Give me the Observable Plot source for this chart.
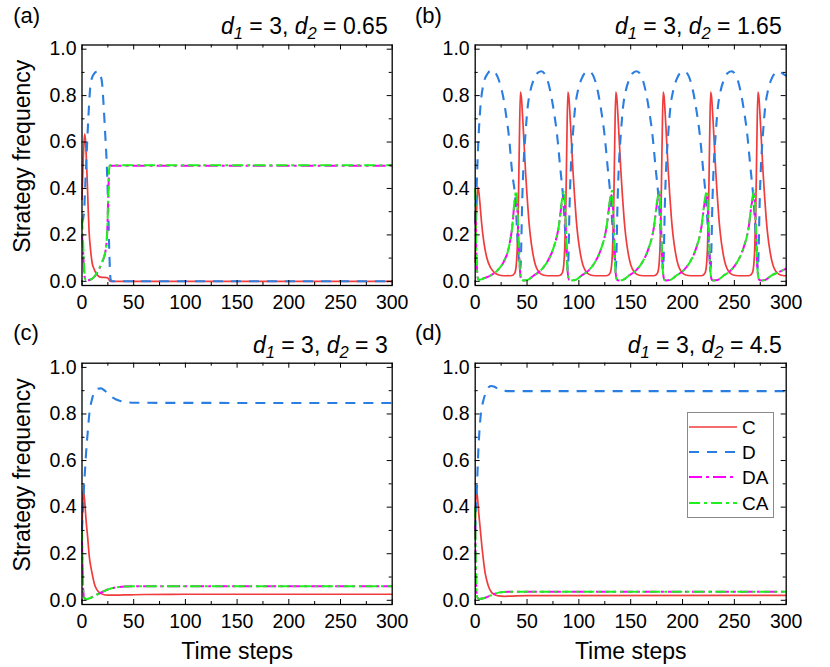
<!DOCTYPE html>
<html><head><meta charset="utf-8">
<script src="https://cdn.jsdelivr.net/npm/d3@7"></script>
<script src="https://cdn.jsdelivr.net/npm/@observablehq/plot@0.6"></script>
<style>
body{margin:0;background:#fff;}
#chart{position:relative;width:830px;height:667px;font-family:"Liberation Sans",Arial,sans-serif;color:#000;overflow:hidden;}
.panel{position:absolute;}
.title{position:absolute;font-size:23px;line-height:1;white-space:nowrap;}
.title sub{font-size:0.72em;vertical-align:-0.3em;line-height:0;}
.letter{position:absolute;font-size:22px;line-height:1;white-space:nowrap;}
</style></head>
<body><div id="chart"></div>
<script>
// ---------- data ----------
const seriesNames = ["C", "D", "DA", "CA"];
const panelLetters = ["(a)", "(b)", "(c)", "(d)"];
const d1Values = ["3", "3", "3", "3"];
const d2Values = ["0.65", "1.65", "3", "4.5"];
const xMajorTicks = [0, 50, 100, 150, 200, 250, 300];
const xMinorTicks = [25, 75, 125, 175, 225, 275];
const yMajorTicks = [0, 0.2, 0.4, 0.6, 0.8, 1.0];
const yMinorTicks = [0.1, 0.3, 0.5, 0.7, 0.9];
const xAxisLabel = "Time steps";
const yAxisLabel = "Strategy frequency";

// panel (a): d1 = 3, d2 = 0.65
const a_C = [[0,0.35],[1,0.5],[2,0.6],[2.6,0.634],[3.5,0.6],[4.3,0.52],[5.1,0.43],[6,0.31],[6.8,0.22],[8.2,0.14],[9.8,0.08],[11.5,0.055],[13,0.04],[16,0.022],[18,0.018],[24,0.016],[25.5,0.012],[26.5,0.004],[27.5,0],[300,0]];
const a_D = [[0,0.25],[2,0.3],[3,0.4],[4.5,0.55],[6.7,0.75],[8.3,0.85],[11,0.89],[15,0.905],[18,0.885],[19.5,0.85],[21,0.75],[22.5,0.63],[23.7,0.53],[25.3,0.32],[26.6,0.1],[27.6,0.01],[29,0],[300,0]];
const a_DA = [[0,0.2],[0.8,0.15],[1.8,0.06],[2.8,0.012],[4,0.004],[10,0.012],[14.7,0.037],[19,0.078],[22.7,0.13],[24.4,0.215],[25.3,0.35],[26.2,0.48],[26.8,0.498],[300,0.498]];
const a_CA = [[0,0.27],[0.8,0.2],[1.8,0.08],[2.8,0.015],[4,0.004],[10,0.012],[14.7,0.039],[19,0.08],[22.7,0.132],[24.4,0.218],[25.3,0.35],[26.2,0.48],[26.8,0.5],[300,0.5]];

// panel (b): d1 = 3, d2 = 1.65
const b_C = [[0,0.08],[1,0.25],[2,0.38],[2.6,0.405],[3.5,0.385],[4.5,0.34],[6,0.26],[8.3,0.17],[11,0.105],[14.7,0.06],[18,0.04],[21,0.03],[25,0.025],[30,0.024],[35.6,0.025],
[38.1,0.035],[39.6,0.07],[40.6,0.15],[41.6,0.32],[42.6,0.6],[43.6,0.815],[44.6,0.79],[45.6,0.72],[46.8,0.62],[48.6,0.47],[50,0.37],[51.6,0.27],[53.1,0.2],[55.6,0.12],[58.1,0.07],[60.6,0.045],[63.6,0.031],[67.6,0.025],[73.6,0.024],[78.6,0.024],
[81.4,0.025],[83.9,0.035],[85.4,0.07],[86.4,0.15],[87.4,0.32],[88.4,0.6],[89.4,0.815],[90.4,0.79],[91.4,0.72],[92.6,0.62],[94.4,0.47],[95.8,0.37],[97.4,0.27],[98.9,0.2],[101.4,0.12],[103.9,0.07],[106.4,0.045],[109.4,0.031],[113.4,0.025],[119.4,0.024],[124.4,0.024],
[127.6,0.025],[130.1,0.035],[131.6,0.07],[132.6,0.15],[133.6,0.32],[134.6,0.6],[135.6,0.815],[136.6,0.79],[137.6,0.72],[138.8,0.62],[140.6,0.47],[142,0.37],[143.6,0.27],[145.1,0.2],[147.6,0.12],[150.1,0.07],[152.6,0.045],[155.6,0.031],[159.6,0.025],[165.6,0.024],[170.6,0.024],
[173.3,0.025],[175.8,0.035],[177.3,0.07],[178.3,0.15],[179.3,0.32],[180.3,0.6],[181.3,0.815],[182.3,0.79],[183.3,0.72],[184.5,0.62],[186.3,0.47],[187.7,0.37],[189.3,0.27],[190.8,0.2],[193.3,0.12],[195.8,0.07],[198.3,0.045],[201.3,0.031],[205.3,0.025],[211.3,0.024],[216.3,0.024],
[219.1,0.025],[221.6,0.035],[223.1,0.07],[224.1,0.15],[225.1,0.32],[226.1,0.6],[227.1,0.815],[228.1,0.79],[229.1,0.72],[230.3,0.62],[232.1,0.47],[233.5,0.37],[235.1,0.27],[236.6,0.2],[239.1,0.12],[241.6,0.07],[244.1,0.045],[247.1,0.031],[251.1,0.025],[257.1,0.024],[262.1,0.024],
[264.7,0.025],[267.2,0.035],[268.7,0.07],[269.7,0.15],[270.7,0.32],[271.7,0.6],[272.7,0.815],[273.7,0.79],[274.7,0.72],[275.9,0.62],[277.7,0.47],[279.1,0.37],[280.7,0.27],[282.2,0.2],[284.7,0.12],[287.2,0.07],[289.7,0.045],[292.7,0.031],[296.7,0.025],[300,0.024]];
const b_D = [[0,0.25],[1.3,0.4],[3,0.6],[5,0.75],[8,0.85],[12,0.895],[16,0.91],[20,0.895],[24,0.85],[27.6,0.78],[30,0.71],[32.4,0.63],[35.6,0.47],[38.8,0.35],[41,0.17],[42.6,0.07],[43.6,0.05],
[44.4,0.15],[45.2,0.32],[46.6,0.5],[48.4,0.63],[50.6,0.75],[53.2,0.82],[56.6,0.87],[59.6,0.895],[63.6,0.905],[67.6,0.89],[72.4,0.82],[75.6,0.74],[79,0.63],[82,0.49],[85,0.35],[87,0.2],[88.5,0.1],[89.4,0.05],
[90.2,0.15],[91,0.32],[92.4,0.5],[94.2,0.63],[96.4,0.75],[99,0.82],[102.4,0.87],[105.4,0.895],[109.4,0.905],[113.4,0.89],[118.2,0.82],[121.4,0.74],[124.8,0.63],[127.8,0.49],[130.8,0.35],[132.9,0.2],[134.7,0.1],[135.6,0.05],
[136.4,0.15],[137.2,0.32],[138.6,0.5],[140.4,0.63],[142.6,0.75],[145.2,0.82],[148.6,0.87],[151.6,0.895],[155.6,0.905],[159.6,0.89],[164.4,0.82],[167.6,0.74],[171,0.63],[174,0.49],[177,0.35],[179.1,0.2],[180.4,0.1],[181.3,0.05],
[182.1,0.15],[182.9,0.32],[184.3,0.5],[186.1,0.63],[188.3,0.75],[190.9,0.82],[194.3,0.87],[197.3,0.895],[201.3,0.905],[205.3,0.89],[210.1,0.82],[213.3,0.74],[216.7,0.63],[219.7,0.49],[222.7,0.35],[224.8,0.2],[226.2,0.1],[227.1,0.05],
[227.9,0.15],[228.7,0.32],[230.1,0.5],[231.9,0.63],[234.1,0.75],[236.7,0.82],[240.1,0.87],[243.1,0.895],[247.1,0.905],[251.1,0.89],[255.9,0.82],[259.1,0.74],[262.5,0.63],[265.5,0.49],[268.5,0.35],[270.6,0.2],[271.8,0.1],[272.7,0.05],
[273.5,0.15],[274.3,0.32],[275.7,0.5],[277.5,0.63],[279.7,0.75],[282.3,0.82],[285.7,0.87],[288.7,0.895],[292.7,0.905],[296.7,0.895],[300,0.885]];
const b_DA = [[0,0.3],[0.8,0.17],[1.8,0.045],[2.6,0.012],[4,0.006],[8.3,0.013],[14.7,0.025],[21,0.045],[27.6,0.085],[32.4,0.145],[35.6,0.23],[38,0.34],[39.6,0.375],[41.5,0.22],[43,0.06],[44.5,0.006],
[46.4,0.004],[50.4,0.006],[56.4,0.025],[62.8,0.045],[69,0.08],[75.6,0.145],[80.4,0.23],[83.7,0.34],[85.9,0.375],[87.5,0.22],[89,0.05],[90.7,0.006],
[92.6,0.004],[96.6,0.006],[102.6,0.025],[109,0.045],[115.2,0.08],[121.8,0.145],[126.6,0.23],[129.9,0.34],[132.1,0.375],[133.7,0.22],[135.2,0.05],[136.9,0.006],
[138.3,0.004],[142.3,0.006],[148.3,0.025],[154.7,0.045],[160.9,0.08],[167.5,0.145],[172.3,0.23],[175.6,0.34],[177.8,0.375],[179.4,0.22],[180.9,0.05],[182.6,0.006],
[184.1,0.004],[188.1,0.006],[194.1,0.025],[200.5,0.045],[206.7,0.08],[213.3,0.145],[218.1,0.23],[221.4,0.34],[223.6,0.375],[225.2,0.22],[226.7,0.05],[228.4,0.006],
[229.7,0.004],[233.7,0.006],[239.7,0.025],[246.1,0.045],[252.3,0.08],[258.9,0.145],[263.7,0.23],[267,0.34],[269.2,0.375],[270.8,0.22],[272.3,0.05],[274,0.006],
[275.7,0.004],[279.7,0.006],[285.7,0.025],[292.1,0.038],[300,0.055]];
const b_CA = [[0,0.4],[0.8,0.2],[1.8,0.05],[2.6,0.012],[4,0.006],[8.3,0.013],[14.7,0.025],[21,0.045],[27.6,0.085],[32.4,0.145],[35.6,0.23],[38,0.35],[39.6,0.39],[41.5,0.23],[43,0.06],[44.5,0.006],
[46.4,0.004],[50.4,0.006],[56.4,0.025],[62.8,0.045],[69,0.08],[75.6,0.145],[80.4,0.23],[83.7,0.35],[85.9,0.39],[87.5,0.23],[89,0.05],[90.7,0.006],
[92.6,0.004],[96.6,0.006],[102.6,0.025],[109,0.045],[115.2,0.08],[121.8,0.145],[126.6,0.23],[129.9,0.35],[132.1,0.39],[133.7,0.23],[135.2,0.05],[136.9,0.006],
[138.3,0.004],[142.3,0.006],[148.3,0.025],[154.7,0.045],[160.9,0.08],[167.5,0.145],[172.3,0.23],[175.6,0.35],[177.8,0.39],[179.4,0.23],[180.9,0.05],[182.6,0.006],
[184.1,0.004],[188.1,0.006],[194.1,0.025],[200.5,0.045],[206.7,0.08],[213.3,0.145],[218.1,0.23],[221.4,0.35],[223.6,0.39],[225.2,0.23],[226.7,0.05],[228.4,0.006],
[229.7,0.004],[233.7,0.006],[239.7,0.025],[246.1,0.045],[252.3,0.08],[258.9,0.145],[263.7,0.23],[267,0.35],[269.2,0.39],[270.8,0.23],[272.3,0.05],[274,0.006],
[275.7,0.004],[279.7,0.006],[285.7,0.025],[292.1,0.038],[300,0.055]];

// panel (c): d1 = 3, d2 = 3
const c_C = [[0,0.3],[0.7,0.42],[1.3,0.47],[2.5,0.43],[4,0.34],[5.5,0.27],[7,0.19],[8.7,0.14],[10.5,0.1],[12,0.07],[14.5,0.045],[16.8,0.033],[20,0.026],[24.8,0.022],[30,0.022],[40,0.023],[60,0.025],[100,0.026],[300,0.026]];
const c_D = [[0,0.3],[1.5,0.45],[2.8,0.55],[3.9,0.63],[5.5,0.72],[7.1,0.8],[9.5,0.86],[12,0.895],[15,0.908],[18.4,0.91],[22,0.9],[28,0.875],[33,0.862],[37.7,0.855],[45,0.85],[50.6,0.848],[300,0.847]];
const c_DA = [[0,0.26],[0.6,0.13],[1.3,0.035],[2.2,0.01],[4,0.005],[8.7,0.011],[15,0.026],[21.6,0.04],[26,0.048],[31,0.054],[36,0.057],[41,0.059],[50.6,0.06],[300,0.06]];
const c_CA = [[0,0.3],[0.6,0.15],[1.3,0.04],[2.2,0.01],[4,0.005],[8.7,0.011],[15,0.026],[21.6,0.04],[26,0.048],[31,0.054],[36,0.057],[41,0.059],[50.6,0.06],[300,0.06]];

// panel (d): d1 = 3, d2 = 4.5
const d_C = [[0,0.3],[0.5,0.42],[1,0.47],[2,0.45],[3.5,0.37],[4.8,0.31],[6.5,0.23],[8,0.17],[9.5,0.12],[11.3,0.083],[13.5,0.052],[16,0.033],[19,0.024],[22.6,0.019],[28,0.017],[35,0.018],[50,0.02],[300,0.021]];
const d_D = [[0,0.3],[0.8,0.4],[1.6,0.48],[3,0.64],[4.8,0.77],[6.5,0.83],[8,0.86],[11,0.9],[13,0.915],[15.5,0.92],[18,0.918],[22,0.908],[26,0.9],[35,0.898],[300,0.898]];
const d_DA = [[0,0.32],[0.5,0.16],[1.2,0.04],[2,0.012],[4,0.006],[9.7,0.011],[16,0.023],[22.6,0.033],[28,0.036],[32,0.037],[300,0.037]];
const d_CA = [[0,0.4],[0.5,0.2],[1.2,0.05],[2,0.012],[4,0.006],[9.7,0.011],[16,0.023],[22.6,0.033],[28,0.036],[32,0.037],[300,0.037]];

// ---------- styles ----------
const lineStyle = {
  C:  {stroke: "#f03c3c", strokeWidth: 1.7, strokeDasharray: null},
  D:  {stroke: "#2a7de1", strokeWidth: 2.1, strokeDasharray: "10,8"},
  DA: {stroke: "#ff00ff", strokeWidth: 2, strokeDasharray: "13,4,3,4"},
  CA: {stroke: "#1ef01e", strokeWidth: 2, strokeDasharray: "11,4,3,4"}
};
const FONT = "Liberation Sans, Arial, Helvetica, sans-serif";
const TICK_FONT = 19.5;
const LABEL_FONT = 23;

const panels = [
  {series: {C: a_C, D: a_D, DA: a_DA, CA: a_CA}, left: 0,   top: 0,   height: 320, mL: 81.5, mR: 23.3, mT: 44.5, mB: 35, yLabel: true,  xLabel: false},
  {series: {C: b_C, D: b_D, DA: b_DA, CA: b_CA}, left: 415, top: 0,   height: 320, mL: 59.7, mR: 44.3, mT: 44.5, mB: 35, yLabel: false, xLabel: false},
  {series: {C: c_C, D: c_D, DA: c_DA, CA: c_CA}, left: 0,   top: 320, height: 347, mL: 81.5, mR: 23.3, mT: 42.7, mB: 63, yLabel: true,  xLabel: true},
  {series: {C: d_C, D: d_D, DA: d_DA, CA: d_CA}, left: 415, top: 320, height: 347, mL: 59.7, mR: 44.3, mT: 42.7, mB: 63, yLabel: false, xLabel: true}
];

const chart = document.getElementById("chart");

panels.forEach((p, i) => {
  const W = 415;
  const fw = W - p.mL - p.mR;
  const fh = p.height - p.mT - p.mB;
  const marks = [];
  for (const s of seriesNames) {
    const st = lineStyle[s];
    marks.push(Plot.line(p.series[s], {
      x: d => d[0], y: d => d[1], curve: "monotone-x",
      stroke: st.stroke, strokeWidth: st.strokeWidth,
      strokeDasharray: st.strokeDasharray, strokeLinecap: "butt"
    }));
  }
  // inward ticks on all sides
  marks.push(Plot.tickX(xMajorTicks, {x: d => d, insetTop: fh - 5, stroke: "black", strokeWidth: 1}));
  marks.push(Plot.tickX(xMajorTicks, {x: d => d, insetBottom: fh - 5, stroke: "black", strokeWidth: 1}));
  marks.push(Plot.tickX(xMinorTicks, {x: d => d, insetTop: fh - 3, stroke: "black", strokeWidth: 1}));
  marks.push(Plot.tickX(xMinorTicks, {x: d => d, insetBottom: fh - 3, stroke: "black", strokeWidth: 1}));
  marks.push(Plot.tickY(yMajorTicks, {y: d => d, insetRight: fw - 5, stroke: "black", strokeWidth: 1}));
  marks.push(Plot.tickY(yMajorTicks, {y: d => d, insetLeft: fw - 5, stroke: "black", strokeWidth: 1}));
  marks.push(Plot.tickY(yMinorTicks, {y: d => d, insetRight: fw - 3, stroke: "black", strokeWidth: 1}));
  marks.push(Plot.tickY(yMinorTicks, {y: d => d, insetLeft: fw - 3, stroke: "black", strokeWidth: 1}));
  // tick labels
  marks.push(Plot.axisX(xMajorTicks, {anchor: "bottom", tickSize: 0, tickPadding: 9.5, fontSize: TICK_FONT, label: null, tickFormat: d => String(d)}));
  marks.push(Plot.axisY(yMajorTicks, {anchor: "left", tickSize: 0, tickPadding: 5.5, fontSize: TICK_FONT, label: null, tickFormat: d => d.toFixed(1)}));
  if (p.yLabel) {
    marks.push(Plot.text([yAxisLabel], {text: d => d, frameAnchor: "left", rotate: -90, dx: 22 - p.mL, dy: -9,
      fontSize: LABEL_FONT, textAnchor: "middle", lineAnchor: "middle", fill: "black"}));
  }
  if (p.xLabel) {
    marks.push(Plot.text([xAxisLabel], {text: d => d, frameAnchor: "bottom", dy: 47,
      fontSize: LABEL_FONT, textAnchor: "middle", lineAnchor: "middle", fill: "black"}));
  }
  marks.push(Plot.frame({stroke: "black", strokeWidth: 1.3}));

  const svg = Plot.plot({
    width: W, height: p.height,
    marginLeft: p.mL, marginRight: p.mR, marginTop: p.mT, marginBottom: p.mB,
    x: {domain: [0, 300], axis: null},
    y: {domain: [-0.018, 1.018], axis: null},
    style: {fontFamily: FONT, background: "transparent", color: "black", overflow: "visible"},
    marks
  });
  const div = document.createElement("div");
  div.className = "panel";
  div.style.left = p.left + "px";
  div.style.top = p.top + "px";
  div.style.width = W + "px";
  div.style.height = p.height + "px";
  div.appendChild(svg);
  chart.appendChild(div);

  // panel letter
  const letter = document.createElement("div");
  letter.className = "letter";
  letter.style.left = (p.left === 0 ? 13.3 : p.left) + "px";
  letter.style.top = (p.top === 0 ? 5 : p.top + 2) + "px";
  letter.textContent = panelLetters[i];
  chart.appendChild(letter);

  // parameter title, right-aligned near the frame's right edge
  const title = document.createElement("div");
  title.className = "title";
  const rightEdge = p.left + W - p.mR - 4;
  title.style.right = (830 - rightEdge) + "px";
  title.style.top = (p.top === 0 ? 14.6 : p.top + 14) + "px";
  title.innerHTML = `<i>d</i><sub><i>1</i></sub> = ${d1Values[i]}, <i>d</i><sub><i>2</i></sub> = ${d2Values[i]}`;
  chart.appendChild(title);
});

// legend inside panel (d)
const legendW = 87, legendH = 106;
const leg = d3.select(chart).append("svg")
  .attr("width", legendW).attr("height", legendH)
  .style("position", "absolute").style("left", "686.5px").style("top", "411.5px")
  .style("font-family", FONT);
leg.append("rect").attr("x", 0.5).attr("y", 0.5).attr("width", legendW - 1).attr("height", legendH - 1)
  .attr("fill", "white").attr("stroke", "#8a8a8a").attr("stroke-width", 1);
const rowY = [15, 40, 65, 91];
seriesNames.forEach((s, k) => {
  const st = lineStyle[s];
  leg.append("line").attr("x1", 2).attr("x2", 50).attr("y1", rowY[k]).attr("y2", rowY[k])
    .attr("stroke", st.stroke).attr("stroke-width", st.strokeWidth)
    .attr("stroke-dasharray", st.strokeDasharray);
  leg.append("text").attr("x", 55).attr("y", rowY[k]).attr("dy", "0.35em")
    .attr("font-size", 19).attr("fill", "black").text(s);
});
</script></body></html>
